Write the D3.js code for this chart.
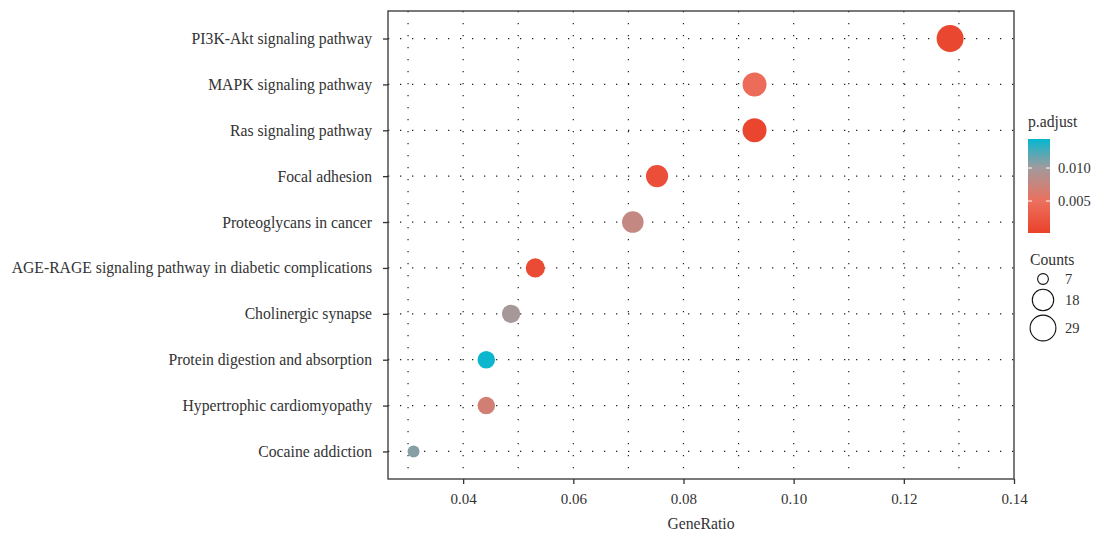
<!DOCTYPE html>
<html>
<head>
<meta charset="utf-8">
<script src="https://cdn.jsdelivr.net/npm/d3@7"></script>
<style>
  body { margin: 0; background: #fff; }
  text { font-family: "Liberation Serif", "DejaVu Serif", serif; fill: #333; }
</style>
</head>
<body>
<div id="chart"></div>
<script>
// pathways, top to bottom
const pathways = [
    "PI3K-Akt signaling pathway",
    "MAPK signaling pathway",
    "Ras signaling pathway",
    "Focal adhesion",
    "Proteoglycans in cancer",
    "AGE-RAGE signaling pathway in diabetic complications",
    "Cholinergic synapse",
    "Protein digestion and absorption",
    "Hypertrophic cardiomyopathy",
    "Cocaine addiction"
];
const geneRatio = [0.1284, 0.0929, 0.0929, 0.0752, 0.0708, 0.0531, 0.0487, 0.0442, 0.0442, 0.0310];
const counts = [29, 21, 21, 17, 16, 12, 11, 10, 10, 7];
const pAdjust = [0.0008, 0.0045, 0.0006, 0.0016, 0.0078, 0.0012, 0.0097, 0.0142, 0.0068, 0.0108];

const xTicks = [0.04, 0.06, 0.08, 0.10, 0.12, 0.14];
const xGrid = [0.03, 0.04, 0.05, 0.06, 0.07, 0.08, 0.09, 0.10, 0.11, 0.12, 0.13];
const colorTicks = [0.005, 0.010];
const sizeBreaks = [7, 18, 29];

const data = pathways.map((p, i) => ({ name: p, ratio: geneRatio[i], count: counts[i], p: pAdjust[i] }));

const W = 1097, H = 535;
const plot = { left: 388, right: 1014, top: 11, bottom: 479 };
const font = "Liberation Serif, DejaVu Serif, serif";

const svg = d3.select("#chart").append("svg")
    .attr("width", W)
    .attr("height", H);

const x = d3.scaleLinear()
    .domain([0.02636, 0.14])
    .range([plot.left, plot.right]);

const y = d3.scalePoint()
    .domain(pathways)
    .range([plot.top, plot.bottom])
    .padding(0.6);

const pDomain = [0.00015, 0.0144];
const color = d3.scaleLinear()
    .domain([0.00015, 0.005, 0.010, 0.0144])
    .range(["#EA4129", "#EC705E", "#A29A9C", "#05B7D0"])
    .interpolate(d3.interpolateRgb);

const size = c => 6 + 7.5 * Math.sqrt((c - 7) / 22);

// dotted grid
svg.append("g")
    .selectAll("line")
    .data(xGrid)
    .join("line")
    .attr("x1", d => x(d)).attr("x2", d => x(d))
    .attr("y1", plot.top).attr("y2", plot.bottom)
    .attr("stroke", "#222")
    .attr("stroke-width", 1.2)
    .attr("stroke-dasharray", "1.3,10.7");

svg.append("g")
    .selectAll("line")
    .data(pathways)
    .join("line")
    .attr("x1", plot.left).attr("x2", plot.right)
    .attr("y1", d => y(d)).attr("y2", d => y(d))
    .attr("stroke", "#222")
    .attr("stroke-width", 1.2)
    .attr("stroke-dasharray", "1.3,10.7");

// points
svg.append("g")
    .selectAll("circle")
    .data(data)
    .join("circle")
    .attr("cx", d => x(d.ratio))
    .attr("cy", d => y(d.name))
    .attr("r", d => size(d.count))
    .attr("fill", d => color(d.p));

// frame
svg.append("rect")
    .attr("x", plot.left).attr("y", plot.top)
    .attr("width", plot.right - plot.left)
    .attr("height", plot.bottom - plot.top)
    .attr("fill", "none")
    .attr("stroke", "#333")
    .attr("stroke-width", 1.3);

// axes
const xAxis = svg.append("g")
    .attr("transform", `translate(0,${plot.bottom})`)
    .call(d3.axisBottom(x).tickValues(xTicks).tickFormat(d3.format(".2f")).tickSize(5).tickPadding(9));
const yAxis = svg.append("g")
    .attr("transform", `translate(${plot.left},0)`)
    .call(d3.axisLeft(y).tickSize(5).tickPadding(11));
[xAxis, yAxis].forEach(a => {
    a.attr("font-family", font).attr("font-size", 15.7);
    a.select(".domain").remove();
    a.selectAll(".tick line").attr("stroke", "#333").attr("stroke-width", 1.3);
    a.selectAll(".tick text").attr("fill", "#333");
});
xAxis.attr("font-size", 15);

svg.append("text")
    .attr("x", (plot.left + plot.right) / 2)
    .attr("y", 529)
    .attr("text-anchor", "middle")
    .attr("font-size", 15.7)
    .text("GeneRatio");

// colour legend
const bar = { x: 1028, y: 139, w: 22, h: 94 };
svg.append("text")
    .attr("x", 1028).attr("y", 127)
    .attr("font-size", 15.7)
    .text("p.adjust");

const grad = svg.append("defs").append("linearGradient")
    .attr("id", "pgrad")
    .attr("x1", 0).attr("y1", 1).attr("x2", 0).attr("y2", 0);
d3.range(0, 1.0001, 0.05).forEach(t => {
    grad.append("stop")
        .attr("offset", t)
        .attr("stop-color", color(pDomain[0] + t * (pDomain[1] - pDomain[0])));
});

const cy = d3.scaleLinear().domain(pDomain).range([bar.y + bar.h, bar.y]);
svg.append("rect")
    .attr("x", bar.x).attr("y", bar.y)
    .attr("width", bar.w).attr("height", bar.h)
    .attr("fill", "url(#pgrad)");

const ct = svg.append("g").selectAll("g")
    .data(colorTicks)
    .join("g");
ct.append("line")
    .attr("x1", bar.x).attr("x2", bar.x + 4)
    .attr("y1", d => cy(d)).attr("y2", d => cy(d))
    .attr("stroke", "#fff");
ct.append("line")
    .attr("x1", bar.x + bar.w - 4).attr("x2", bar.x + bar.w)
    .attr("y1", d => cy(d)).attr("y2", d => cy(d))
    .attr("stroke", "#fff");
ct.append("text")
    .attr("x", bar.x + bar.w + 8)
    .attr("y", d => cy(d))
    .attr("dy", "0.35em")
    .attr("font-size", 14.5)
    .text(d => d3.format(".3f")(d));

// size legend
svg.append("text")
    .attr("x", 1030).attr("y", 265)
    .attr("font-size", 15.7)
    .text("Counts");

const sizeY = [279, 300, 328];
const sl = svg.append("g").selectAll("g")
    .data(sizeBreaks)
    .join("g")
    .attr("transform", (d, i) => `translate(1043,${sizeY[i]})`);
sl.append("circle")
    .attr("r", d => size(d) - 0.6)
    .attr("fill", "none")
    .attr("stroke", "#111")
    .attr("stroke-width", 1.1);
sl.append("text")
    .attr("x", 22)
    .attr("dy", "0.35em")
    .attr("font-size", 14.5)
    .text(d => d);
</script>
</body>
</html>
